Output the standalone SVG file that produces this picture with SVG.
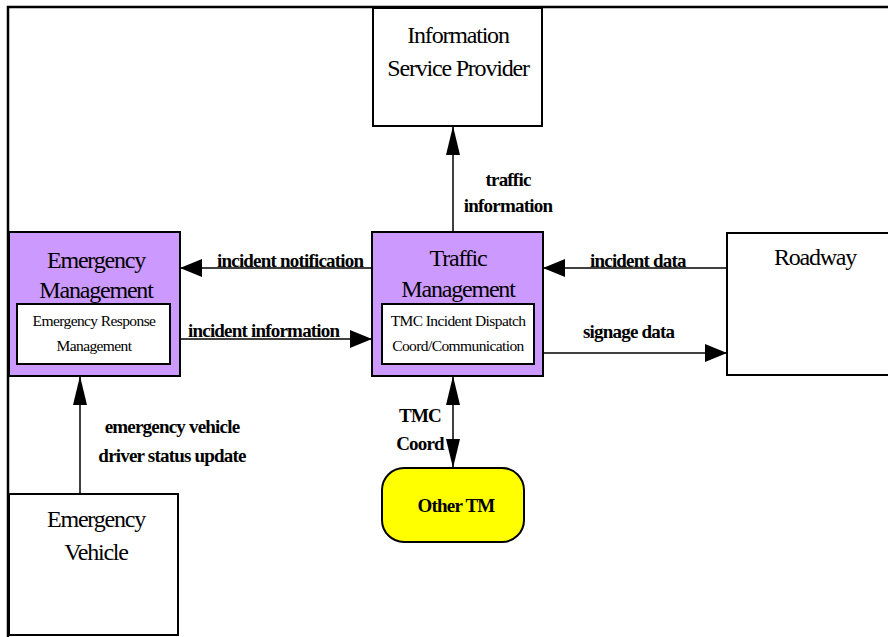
<svg xmlns="http://www.w3.org/2000/svg" width="888" height="637" viewBox="0 0 888 637">
<defs>
<style>
.box{fill:#fff;stroke:#000;stroke-width:2}
.pbox{fill:#cc99ff;stroke:#000;stroke-width:2}
.ybox{fill:#ffff00;stroke:#000;stroke-width:2}
.t{font-family:"Liberation Serif","Times New Roman",serif;font-size:24px;letter-spacing:-1.2px;text-anchor:middle;fill:#000}
.s{font-family:"Liberation Serif","Times New Roman",serif;font-size:15.5px;letter-spacing:-0.6px;text-anchor:middle;fill:#000}
.l{font-family:"Liberation Serif","Times New Roman",serif;font-size:19px;font-weight:bold;letter-spacing:-0.8px;fill:#000}
.c{fill:none;stroke:#000;stroke-width:1.5}
.h{marker-end:url(#ah)}
.v{marker-end:url(#av)}
</style>
<marker id="ah" markerUnits="userSpaceOnUse" markerWidth="22" markerHeight="18" refX="22" refY="9" orient="auto">
<path d="M0,0 L22,9 L0,18 Z" fill="#000"/>
</marker>
<marker id="av" markerUnits="userSpaceOnUse" markerWidth="29" markerHeight="14" refX="29" refY="7" orient="auto-start-reverse">
<path d="M0,0 L29,7 L0,14 Z" fill="#000"/>
</marker>
</defs>
<rect width="888" height="637" fill="#fff"/>
<path d="M8,637 V7 H888" fill="none" stroke="#000" stroke-width="2.5"/>

<g id="connectors">
<line class="c v" x1="453" y1="232" x2="453" y2="126"/>
<line class="c h" x1="372" y1="268" x2="180" y2="268"/>
<line class="c h" x1="180" y1="339" x2="372" y2="339"/>
<line class="c h" x1="727" y1="268" x2="543" y2="268"/>
<line class="c h" x1="543" y1="353" x2="727" y2="353"/>
<line class="c v" x1="453" y1="468" x2="453" y2="376" style="marker-start:url(#av)"/>
<line class="c v" x1="80" y1="494" x2="80" y2="376"/>
<text class="l" x="508" y="186" text-anchor="middle">traffic</text>
<text class="l" x="508" y="212" text-anchor="middle">information</text>
<text class="l" x="217" y="267">incident notification</text>
<text class="l" x="188" y="337">incident information</text>
<text class="l" x="590" y="267">incident data</text>
<text class="l" x="583" y="338">signage data</text>
<text class="l" x="420" y="422" text-anchor="middle">TMC</text>
<text class="l" x="420" y="450" text-anchor="middle">Coord</text>
<text class="l" x="172" y="433" text-anchor="middle">emergency vehicle</text>
<text class="l" x="172" y="462" text-anchor="middle">driver status update</text>
</g>

<g id="isp">
<rect class="box" x="373" y="8" width="169" height="118"/>
<text class="t" x="458" y="43">Information</text>
<text class="t" x="458" y="76">Service Provider</text>
</g>

<g id="em">
<rect class="pbox" x="9" y="232" width="171" height="144"/>
<text class="t" x="96" y="268">Emergency</text>
<text class="t" x="96" y="298">Management</text>
<rect class="box" x="17" y="304" width="153" height="60" stroke-width="1.5"/>
<text class="s" x="94" y="326">Emergency Response</text>
<text class="s" x="94" y="351">Management</text>
</g>

<g id="tm">
<rect class="pbox" x="372" y="232" width="171" height="144"/>
<text class="t" x="458" y="266">Traffic</text>
<text class="t" x="458" y="297">Management</text>
<rect class="box" x="382" y="304" width="152" height="60" stroke-width="1.5"/>
<text class="s" x="458" y="326">TMC Incident Dispatch</text>
<text class="s" x="458" y="351">Coord/Communication</text>
</g>

<g id="roadway">
<rect class="box" x="727" y="233" width="180" height="142"/>
<text class="t" x="815" y="265">Roadway</text>
</g>

<g id="ev">
<rect class="box" x="9" y="494" width="169" height="141"/>
<text class="t" x="96" y="527">Emergency</text>
<text class="t" x="96" y="560">Vehicle</text>
</g>

<g id="othertm">
<rect class="ybox" x="382" y="468" width="142" height="74" rx="22" ry="22"/>
<text class="l" x="456" y="512" text-anchor="middle" font-size="21" letter-spacing="-1.2">Other TM</text>
</g>
</svg>
